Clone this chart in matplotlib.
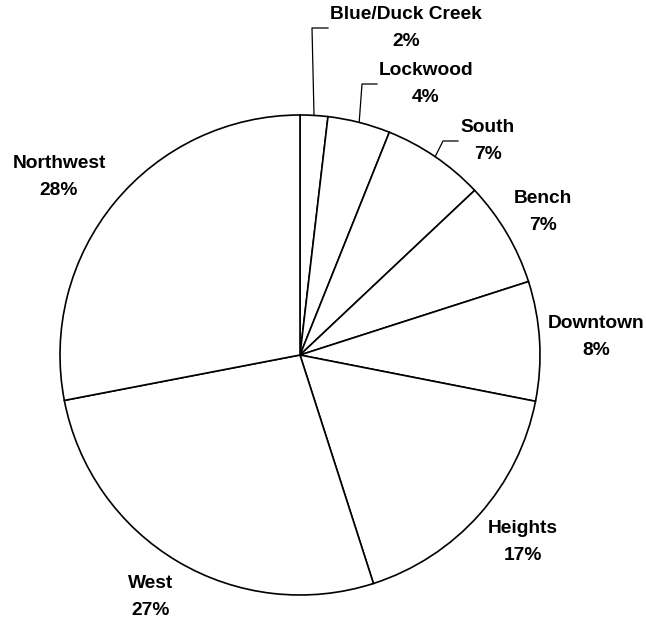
import matplotlib.pyplot as plt
import numpy as np

plt.rcParams['font.family'] = ['Liberation Sans', 'DejaVu Sans']

areas = ["Blue/Duck Creek", "Lockwood", "South", "Bench", "Downtown",
         "Heights", "West", "Northwest"]
shares = [1.86, 4.21, 6.90, 7.08, 8.04, 16.96, 26.92, 28.03]
pct_labels = ["2%", "4%", "7%", "7%", "8%", "17%", "27%", "28%"]

W, H = 646, 620
cx, cy, R = 300, H - 355, 240

# label centres in pixel coords (x, y from top)
label_pos = [(406, 28), (426, 84), (488, 141), (543, 212), (596, 337),
             (523, 542), (151, 597), (59, 177)]
# leader lines for the small slices: (elbow, end) from top
leaders = {0: ((312, 28), (328, 28)),
           1: ((362, 84), (377, 84)),
           2: ((443, 141), (458, 141))}

fig = plt.figure(figsize=(W / 100, H / 100), dpi=100)
ax = fig.add_axes([0, 0, 1, 1])
ax.pie(shares, startangle=90, counterclock=False, center=(cx, cy), radius=R,
       colors=['white'] * len(shares),
       wedgeprops=dict(edgecolor='black', linewidth=1.2))
ax.set_xlim(0, W)
ax.set_ylim(0, H)
ax.set_aspect('equal')
ax.axis('off')

cum = np.cumsum([0] + shares)
for i, (name, pct) in enumerate(zip(areas, pct_labels)):
    lx, ly = label_pos[i]
    ax.text(lx, H - ly, name + "\n" + pct, ha='center', va='center',
            fontsize=13.8, fontweight='bold', linespacing=1.7)
    if i in leaders:
        mid = np.deg2rad((cum[i] + cum[i + 1]) / 2 * 3.6)
        px, py = cx + R * np.sin(mid), cy + R * np.cos(mid)
        (ex, ey), (fx, fy) = leaders[i]
        ax.plot([px, ex, fx], [py, H - ey, H - fy], color='black', lw=0.9)

fig.savefig('out.png', dpi=100)
